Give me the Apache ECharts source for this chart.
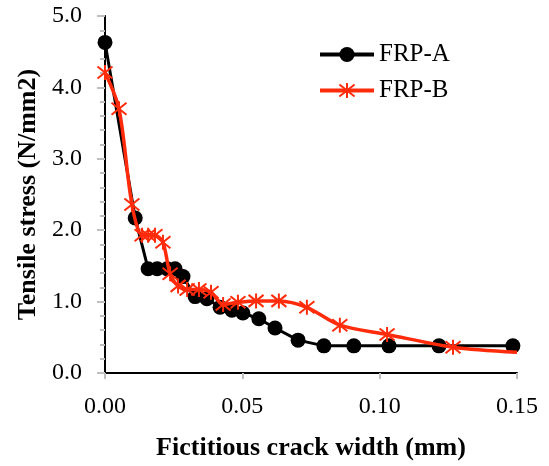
<!DOCTYPE html>
<html>
<head>
<meta charset="utf-8">
<script src="https://cdn.jsdelivr.net/npm/echarts@6/dist/echarts.min.js"></script>
<style>
html,body{margin:0;padding:0;background:#fff;}
#chart{width:549px;height:466px;}
</style>
</head>
<body>
<div id="chart"></div>
<script>
// Data
const seriesNames = ['FRP-A', 'FRP-B'];
const frpA_x = [0, 0.011, 0.0157, 0.019, 0.0226, 0.0255, 0.0284, 0.0328, 0.0371, 0.0419, 0.0462, 0.0502, 0.0560, 0.0619, 0.0703, 0.0797, 0.0906, 0.1034, 0.1216, 0.1485];
const frpA_y = [4.63, 2.17, 1.46, 1.46, 1.46, 1.46, 1.35, 1.07, 1.04, 0.92, 0.88, 0.84, 0.76, 0.63, 0.46, 0.38, 0.38, 0.38, 0.38, 0.38];
const frpB_x = [0, 0.0051, 0.0098, 0.0135, 0.0157, 0.0182, 0.0211, 0.0237, 0.0266, 0.0299, 0.0342, 0.0386, 0.0430, 0.0484, 0.0550, 0.0633, 0.0735, 0.0855, 0.1027, 0.1267, 0.150];
const frpB_y = [4.21, 3.70, 2.36, 1.93, 1.93, 1.93, 1.83, 1.39, 1.22, 1.17, 1.17, 1.13, 0.96, 0.99, 1.01, 1.01, 0.92, 0.67, 0.54, 0.36, 0.29];
const frpB_marker = [1,1,1,1,1,1,1,1,1,1,1,1,1,1,1,1,1,1,1,1,0];
const xTicks = [0, 0.05, 0.10, 0.15];
const yTicks = [0, 1, 2, 3, 4, 5];
const xTitle = 'Fictitious crack width (mm)';
const yTitle = 'Tensile stress (N/mm2)';

const serif = '"Liberation Serif", "Times New Roman", serif';
const red = '#FF2B0A';
const star = 'path://M5,0L5,10M1,1L9,9M9,1L1,9';

const chart = echarts.init(document.getElementById('chart'), null, {renderer: 'canvas'});

const dataA = frpA_x.map((x, i) => [x, frpA_y[i]]);
const dataB = frpB_x.map((x, i) => frpB_marker[i] ? [x, frpB_y[i]] : {value: [x, frpB_y[i]], symbol: 'none'});

chart.setOption({
  animation: false,
  backgroundColor: '#fff',
  grid: {left: 105, right: 32, top: 16, bottom: 89},
  legend: {
    left: 318, top: 42, orient: 'vertical', padding: 0,
    itemWidth: 54, itemHeight: 19, itemGap: 11,
    lineStyle: {width: 4},
    textStyle: {fontFamily: serif, fontSize: 25, color: '#000'},
    data: seriesNames
  },
  xAxis: [{
    type: 'value', min: xTicks[0], max: xTicks[xTicks.length - 1], interval: 0.05,
    name: xTitle, nameLocation: 'middle', nameGap: 62,
    nameTextStyle: {fontFamily: serif, fontSize: 26, fontWeight: 'bold', color: '#000'},
    axisLine: {lineStyle: {color: '#BFBFBF', width: 2}},
    axisTick: {show: true, length: 6, lineStyle: {color: '#BFBFBF', width: 2}},
    axisLabel: {fontFamily: serif, fontSize: 24, color: '#000', margin: 22, formatter: v => v.toFixed(2)},
    splitLine: {show: false}
  }, {
    type: 'value', position: 'top', min: 0, max: 0.15,
    axisLine: {show: true, lineStyle: {color: '#000', width: 2}},
    axisTick: {show: false}, axisLabel: {show: false}, splitLine: {show: false}
  }],
  yAxis: [{
    type: 'value', min: yTicks[0], max: yTicks[yTicks.length - 1], interval: 1,
    name: yTitle, nameLocation: 'middle', nameGap: 64,
    nameTextStyle: {fontFamily: serif, fontSize: 26, fontWeight: 'bold', color: '#000'},
    axisLine: {show: true, lineStyle: {color: '#BFBFBF', width: 2}},
    axisTick: {show: true, length: 8, lineStyle: {color: '#BFBFBF', width: 2}},
    minorTick: {show: true, splitNumber: 5, length: 5, lineStyle: {color: '#BFBFBF', width: 2}},
    axisLabel: {fontFamily: serif, fontSize: 24, color: '#000', margin: 23, formatter: v => v.toFixed(1)},
    splitLine: {show: false}
  }, {
    type: 'value', position: 'right', min: 0, max: 5,
    axisLine: {show: true, lineStyle: {color: '#000', width: 2}},
    axisTick: {show: false}, axisLabel: {show: false}, splitLine: {show: false}
  }],
  series: [{
    name: seriesNames[0], type: 'line', data: dataA,
    symbol: 'circle', symbolSize: 15, showAllSymbol: true,
    lineStyle: {color: '#000', width: 3},
    itemStyle: {color: '#000'},
    z: 2
  }, {
    name: seriesNames[1], type: 'line', data: dataB, smooth: 0.3,
    symbol: star, symbolSize: 15, showAllSymbol: true,
    lineStyle: {color: red, width: 3.5},
    itemStyle: {color: red, borderColor: red, borderWidth: 2},
    z: 3
  }]
});
</script>
</body>
</html>
